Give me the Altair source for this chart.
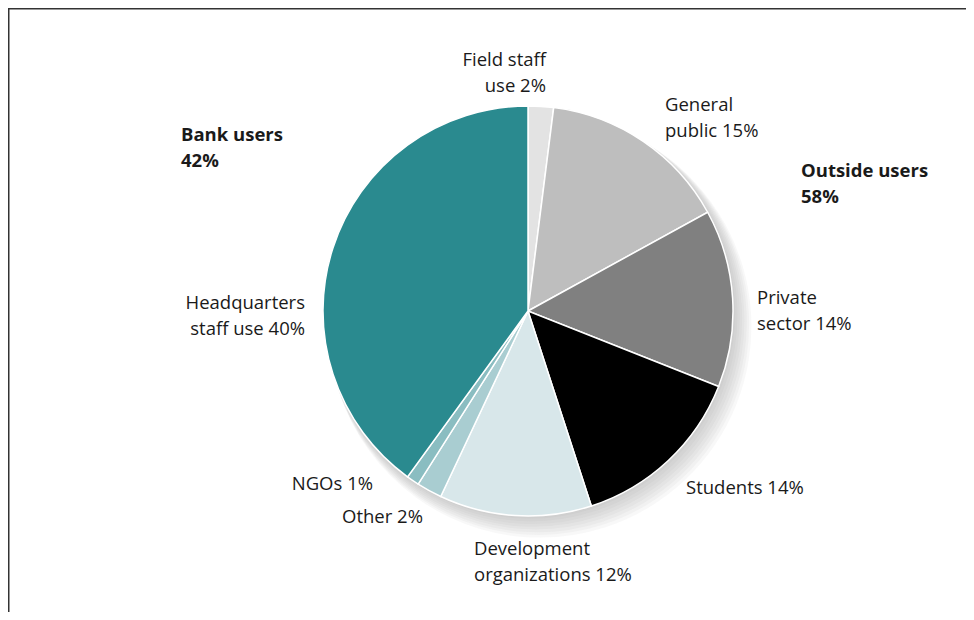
import altair as alt
import pandas as pd

# ---- data ----
categories = ["Field staff use", "General public", "Private sector", "Students",
              "Development organizations", "Other", "NGOs", "Headquarters staff use"]
shares = [2, 15, 14, 14, 12, 2, 1, 40]
colors = ["#e3e3e3", "#bebebe", "#808080", "#000000",
          "#d8e7ea", "#a9cdd1", "#8abdc1", "#2a8a8f"]
label_texts = ["Field staff\nuse 2%", "General\npublic 15%", "Private\nsector 14%",
               "Students 14%", "Development\norganizations 12%", "Other 2%",
               "NGOs 1%", "Headquarters\nstaff use 40%"]
group_texts = ["Bank users\n42%", "Outside users\n58%"]

df = pd.DataFrame({"category": categories, "share": shares,
                   "order": list(range(len(categories)))})

# ---- layout ----
W, H = 958, 604
CX, CY, R = 520, 303, 205
FONT = "Open Sans"
TXT = "#1a1a1a"
FS = 18.5

# label anchors (x, y, align) in canvas coords
label_layout = [
    (538, 52, "right"), (657, 97, "left"), (749, 290, "left"),
    (678, 480, "left"), (466, 541, "left"), (415, 509, "right"),
    (365, 476, "right"), (297, 295, "right"),
]
group_layout = [(173, 127, "left"), (793, 163, "left")]

color_scale = alt.Scale(domain=categories, range=colors)

layers = []

# frame (top and left edges)
layers.append(alt.Chart(pd.DataFrame({"a": [0]})).mark_rule(color="#333", strokeWidth=1.5)
              .encode(x=alt.value(0.75), y=alt.value(0), y2=alt.value(H)))
layers.append(alt.Chart(pd.DataFrame({"a": [0]})).mark_rule(color="#333", strokeWidth=1.5)
              .encode(x=alt.value(0), x2=alt.value(W), y=alt.value(0.75)))

# soft shadow
for k in range(1, 9):
    layers.append(
        alt.Chart(df).mark_arc(radius=R + k * 0.8, color="#9a9a9a", opacity=0.065, strokeWidth=0)
        .encode(theta=alt.Theta("share:Q", stack=True),
                order=alt.Order("order:Q"),
                x=alt.value(CX + k * 1.5), y=alt.value(CY + k * 1.9))
    )

# pie
layers.append(
    alt.Chart(df).mark_arc(radius=R, stroke="white", strokeWidth=1.5)
    .encode(theta=alt.Theta("share:Q", stack=True),
            order=alt.Order("order:Q"),
            color=alt.Color("category:N", scale=color_scale, legend=None),
            x=alt.value(CX), y=alt.value(CY))
)

# labels
for txt, (lx, ly, al) in zip(label_texts, label_layout):
    layers.append(
        alt.Chart(pd.DataFrame({"t": [txt]})).mark_text(
            font=FONT, fontSize=FS, color=TXT, align=al, baseline="middle",
            lineBreak="\n", lineHeight=26)
        .encode(text="t:N", x=alt.value(lx), y=alt.value(ly))
    )
for txt, (lx, ly, al) in zip(group_texts, group_layout):
    layers.append(
        alt.Chart(pd.DataFrame({"t": [txt]})).mark_text(
            font=FONT, fontSize=FS, fontWeight="bold", color=TXT, align=al,
            baseline="middle", lineBreak="\n", lineHeight=26)
        .encode(text="t:N", x=alt.value(lx), y=alt.value(ly))
    )

chart = alt.layer(*layers).properties(
    width=W, height=H,
    autosize=alt.AutoSizeParams(type="none"),
    padding=0,
).configure_view(stroke=None)

chart.save("out.html", embed_options={"renderer": "svg", "actions": False})
